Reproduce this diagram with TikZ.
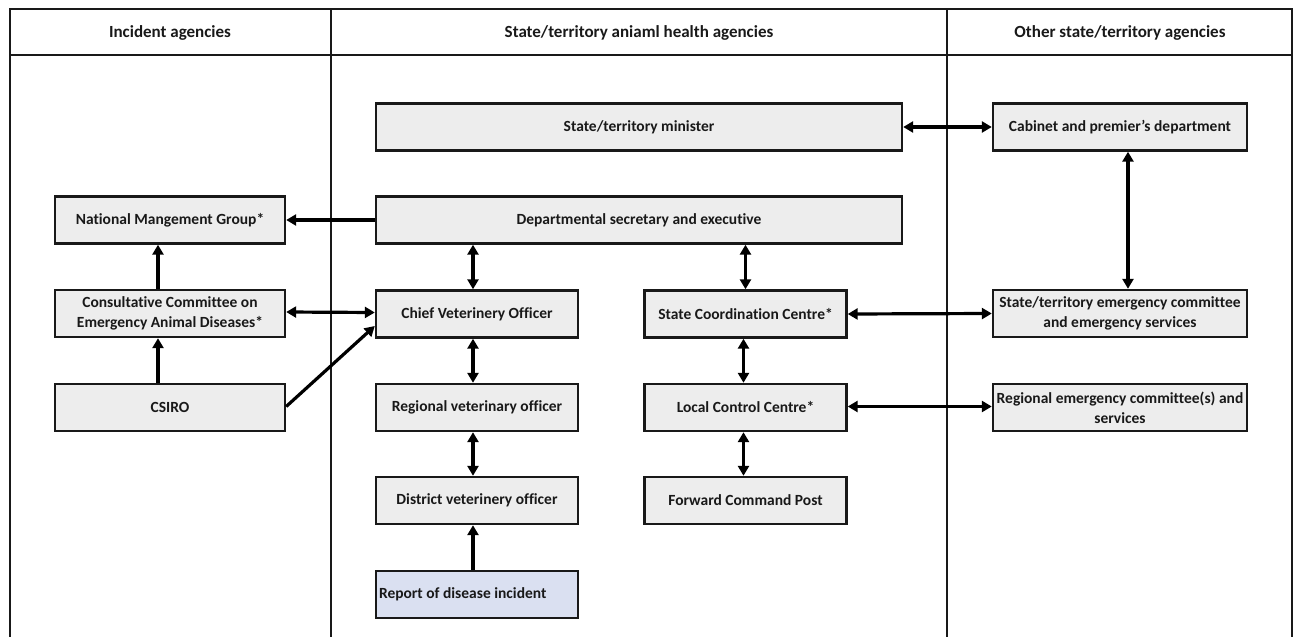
\documentclass[tikz,border=0pt]{standalone}
\usepackage{fontspec}
\setmainfont{Carlito}[Ligatures=NoCommon]
\usetikzlibrary{arrows.meta,calc}
\definecolor{boxgray}{RGB}{237,237,237}
\definecolor{reportblue}{RGB}{218,224,241}
\definecolor{txt}{RGB}{25,25,25}
\tikzset{
  box/.style={draw=black!90, line width=2.4pt, fill=boxgray, text=txt,
    font=\fontsize{15.5}{20}\selectfont\bfseries, align=center,
    minimum height=47pt, inner sep=1pt},
  wide/.style={minimum width=526pt},
  lbox/.style={minimum width=230pt},
  mbox/.style={minimum width=202pt},
  rbox/.style={minimum width=254pt},
  conn/.style={line width=3.2pt, black,
    -{Triangle[length=10pt,width=11pt]}},
  bconn/.style={line width=3.2pt, black,
    {Triangle[length=10pt,width=11pt]}-{Triangle[length=10pt,width=11pt]}},
  frame/.style={line width=2pt, black!90},
  head/.style={text=txt, font=\fontsize{17}{20}\selectfont\bfseries}
}
\begin{document}
\begin{tikzpicture}[x=1pt,y=-1pt]
\useasboundingbox (0,0) rectangle (1294,637);
% frame
\coordinate (tl) at (10,9);
\coordinate (tr) at (1292,9);
\coordinate (bl) at (10,640);
\coordinate (br) at (1292,640);
\coordinate (d1t) at (330.5,9);
\coordinate (d1b) at (330.5,640);
\coordinate (d2t) at (947,9);
\coordinate (d2b) at (947,640);
\coordinate (hl) at (10,55);
\coordinate (hr) at (1292,55);
\draw[frame] (bl) -- (tl) -- (tr) -- (br);
\draw[frame] (d1t) -- (d1b);
\draw[frame] (d2t) -- (d2b);
\draw[frame] (hl) -- (hr);
\node[head] (h1) at (170,33) {Incident agencies};
\node[head] (h2) at (639,33) {State/territory aniaml health agencies};
\node[head] (h3) at (1120,33) {Other state/territory agencies};
% boxes
\node[box,wide] (min) at (639,127) {State/territory minister};
\node[box,wide] (dept) at (639,220) {Departmental secretary and executive};
\node[box,lbox] (nmg) at (170,220) {National Mangement Group*};
\node[box,lbox] (ccead) at (170,313.5) {Consultative Committee on\\Emergency Animal Diseases*};
\node[box,lbox] (csiro) at (170,407.5) {CSIRO};
\node[box,mbox] (cvo) at (477,314) {Chief Veterinery Officer};
\node[box,mbox] (rvo) at (477,407.5) {Regional veterinary officer};
\node[box,mbox] (dvo) at (477,500.5) {District veterinery officer};
\node[box,mbox,fill=reportblue,text width=196pt,align=flush left,inner xsep=3pt] (rep) at (477,594.5) {Report of disease incident};
\node[box,mbox] (scc) at (745.5,314) {State Coordination Centre*};
\node[box,mbox] (lcc) at (745.5,407.5) {Local Control Centre*};
\node[box,mbox] (fcp) at (745.5,500.5) {Forward Command Post};
\node[box,rbox] (cab) at (1120,127) {Cabinet and premier{\char"0027}s department};
\node[box,rbox] (sec) at (1120,313.5) {State/territory emergency committee\\and emergency services};
\node[box,rbox] (rec) at (1120,407.5) {Regional emergency committee(s) and\\services};
% connectors
\draw[conn] (dept.west) -- (nmg.east);
\draw[conn] ([xshift=-12pt]ccead.north) -- ([xshift=-12pt]nmg.south);
\draw[conn] ([xshift=-12pt]csiro.north) -- ([xshift=-12pt]ccead.south);
\draw[bconn] ([yshift=1.5pt]ccead.east) -- ([yshift=1.5pt]cvo.west);
\draw[conn] ([yshift=1pt]csiro.east) -- ([yshift=-12pt]cvo.west);
\draw[bconn] ([xshift=-4pt]dept.south -| cvo.north) -- ([xshift=-4pt]cvo.north);
\draw[bconn] (dept.south -| scc.north) -- (scc.north);
\draw[bconn] ([xshift=-4pt]cvo.south) -- ([xshift=-4pt]rvo.north);
\draw[bconn] ([xshift=-4pt]rvo.south) -- ([xshift=-4pt]dvo.north);
\draw[conn] ([xshift=-4pt]rep.north) -- ([xshift=-4pt]dvo.south);
\draw[bconn] ([xshift=-2pt]scc.south) -- ([xshift=-2pt]lcc.north);
\draw[bconn] ([xshift=-2pt]lcc.south) -- ([xshift=-2pt]fcp.north);
\draw[bconn] (min.east) -- (cab.west);
\draw[bconn] ([xshift=8pt]cab.south) -- ([xshift=8pt]sec.north);
\draw[bconn] (scc.east) -- (sec.west);
\draw[bconn] ([yshift=1pt]lcc.east) -- ([yshift=1pt]rec.west);
\end{tikzpicture}
\end{document}
